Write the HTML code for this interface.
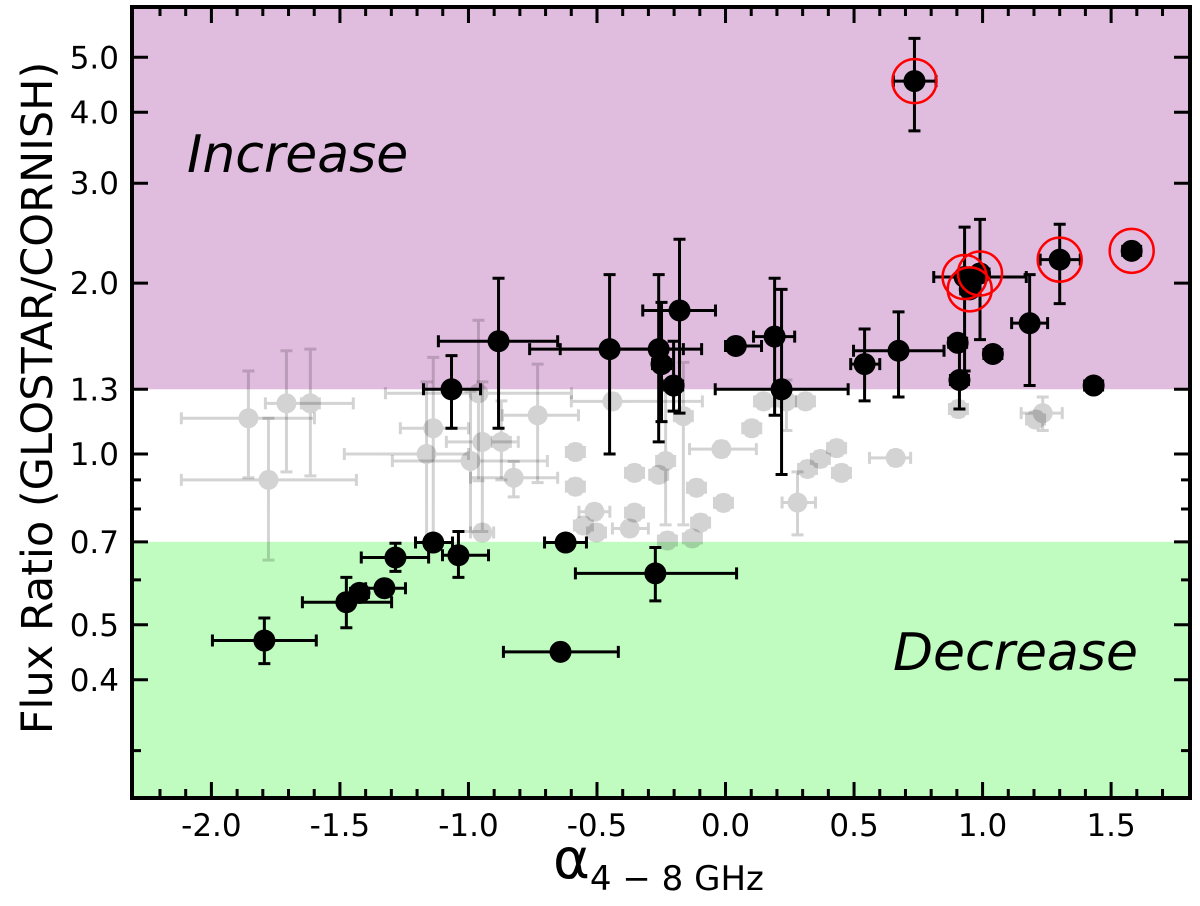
<!DOCTYPE html>
<html><head><meta charset="utf-8"><style>
html,body{margin:0;padding:0;background:#fff;}
svg{display:block;font-family:"DejaVu Sans","Liberation Sans",sans-serif;}
</style></head><body>
<svg id="chart" width="1200" height="906" viewBox="0 0 1200 906" xmlns="http://www.w3.org/2000/svg">
<g id="bg"></g><g id="grey"></g><g id="black"></g><g id="rings"></g><g id="axes"></g>
</svg>
<script>
// black (selected) sources
const bx  = [0.735,1.30,1.58,0.93,0.99,0.95,1.183,1.04,0.903,0.91,1.432,0.673,0.541,0.191,0.218,0.04,-0.179,-0.26,-0.249,-0.202,-0.451,-0.883,-1.066,-1.794,-1.475,-1.424,-1.327,-1.284,-1.137,-1.039,-0.622,-0.273,-0.642];
const by  = [4.54,2.20,2.28,2.05,2.08,1.95,1.70,1.50,1.57,1.35,1.32,1.52,1.44,1.61,1.30,1.55,1.79,1.53,1.44,1.32,1.53,1.58,1.30,0.469,0.548,0.569,0.58,0.657,0.698,0.663,0.698,0.616,0.448];
const bxlo= [0.653,1.224,null,0.81,null,null,1.113,null,null,null,null,0.498,0.487,0.109,-0.04,0.0,-0.322,-0.643,null,null,-0.762,-1.117,-1.175,-1.996,-1.646,null,-1.40,-1.417,-1.206,-1.101,-0.704,-0.584,-0.864];
const bxhi= [0.819,1.38,null,1.17,null,null,1.253,null,null,null,null,0.85,0.60,0.269,0.477,0.14,-0.039,-0.093,null,null,-0.164,-0.653,-0.953,-1.592,-1.299,null,-1.245,-1.155,-1.062,-0.922,-0.541,0.043,-0.417];
const bylo= [3.71,1.84,null,1.40,1.59,null,1.32,null,null,1.20,null,1.26,1.24,1.17,0.92,null,1.18,1.05,1.14,1.19,1.00,1.11,1.11,0.427,0.494,null,null,0.621,null,0.606,null,0.551,null];
const byhi= [5.40,2.54,null,2.51,2.59,null,2.07,null,null,1.58,null,1.78,1.66,2.04,1.95,null,2.39,2.07,1.85,1.58,2.07,2.04,1.49,0.514,0.606,null,null,0.696,null,0.730,null,0.684,null];
const circled = [0,1,2,3,4,5];
// grey (non-variable) sources
const gx  = [-1.856,-1.708,-1.615,-1.778,-0.961,-1.137,-1.163,-0.946,-0.872,-0.992,-0.824,-0.731,-0.946,-0.584,-0.584,-0.354,-0.51,-0.553,-0.502,-0.373,-0.354,-0.44,-0.26,-0.233,-0.164,-0.113,-0.016,0.102,0.148,0.237,0.311,0.28,0.319,0.369,0.432,0.451,0.662,0.906,1.234,1.206,-0.097,-0.129,-0.226,-0.008];
const gy  = [1.156,1.228,1.228,0.90,1.279,1.11,1.0,1.05,1.05,0.972,0.908,1.17,0.727,1.008,0.876,0.926,0.791,0.748,0.727,0.739,0.788,1.238,0.919,0.972,1.166,0.872,1.02,1.11,1.238,1.238,1.238,0.821,0.941,0.98,1.024,0.926,0.984,1.20,1.18,1.15,0.757,0.71,0.704,0.82];
const gxlo= [-2.117,-1.79,null,-2.117,-1.323,-1.265,-1.483,-1.086,null,-1.296,-0.992,-0.868,-0.992,null,null,null,-0.57,null,null,-0.44,null,-0.60,null,null,null,null,-0.14,null,null,null,null,0.22,null,null,null,null,0.56,null,1.15,null,null,null,null,null];
const gxhi= [-1.599,-1.448,null,-1.436,-0.599,-1.0,-1.0,-0.806,null,-0.693,-0.653,-0.572,-0.902,null,null,null,-0.45,null,null,-0.30,null,-0.09,null,null,null,null,0.12,null,null,null,null,0.35,null,null,null,null,0.72,null,1.31,null,null,null,null,null];
const gylo= [0.908,0.93,0.915,0.65,0.897,0.70,0.70,0.73,0.90,0.73,0.84,0.89,null,null,null,null,null,null,null,null,null,null,null,0.75,0.75,null,null,null,null,1.1,null,0.72,null,null,null,null,null,null,1.10,null,null,null,null,null];
const gyhi= [1.40,1.52,1.53,1.156,1.72,1.48,1.34,1.34,1.24,1.29,0.97,1.44,null,null,null,null,null,null,null,null,null,null,null,1.3,1.45,null,null,null,null,1.35,null,0.93,null,null,null,null,null,null,1.26,null,null,null,null,null];
// axis ticks
const xTicks = [-2.0,-1.5,-1.0,-0.5,0.0,0.5,1.0,1.5];
const yTicks = [0.4,0.5,0.7,1.0,1.3,2.0,3.0,4.0,5.0];
const yMinor = [0.3,0.6,0.8,0.9];
const bands = [1.3,0.7];

const L=133,R=1189,T=8,B=797;
const XMIN=-2.305,XMAX=1.803,YMIN=0.2486,YMAX=6.107;
const sx=v=>L+(v-XMIN)/(XMAX-XMIN)*(R-L);
const sy=v=>B-(Math.log10(v)-Math.log10(YMIN))/(Math.log10(YMAX)-Math.log10(YMIN))*(B-T);
const NS="http://www.w3.org/2000/svg";
function mk(parent,tag,attrs){const e=document.createElementNS(NS,tag);for(const k in attrs)e.setAttribute(k,attrs[k]);parent.appendChild(e);return e;}

const bg=document.getElementById('bg');
let r1=mk(bg,'rect',{x:L,y:T,width:R-L,height:sy(bands[0])-T,fill:'#e0bcdf'});


let r2=mk(bg,'rect',{x:L,y:sy(bands[1]),width:R-L,height:B-sy(bands[1]),fill:'#c0fcc0'});


let t1=mk(bg,'text',{x:187,y:172,'font-size':52,'font-style':'italic',fill:'#000'});t1.textContent='Increase';


let t2=mk(bg,'text',{x:893,y:670,'font-size':52,'font-style':'italic',fill:'#000'});t2.textContent='Decrease';



function drawPoint(g,x,y,xl,xh,yl,yh,r){
  const cx=sx(x),cy=sy(y);
  const x1=sx(xl==null?x-0.035:xl),x2=sx(xh==null?x+0.035:xh);
  const y1=sy(yh==null?y*1.03:yh),y2=sy(yl==null?y/1.03:yl);
  const p=`M${x1},${cy}H${x2}M${cx},${y1}V${y2}M${x1},${cy-6}V${cy+6}M${x2},${cy-6}V${cy+6}M${cx-6},${y1}H${cx+6}M${cx-6},${y2}H${cx+6}`;
  mk(g,'path',{d:p,stroke:'#000','stroke-width':3,fill:'none'});
  mk(g,'circle',{cx:cx,cy:cy,r:r,fill:'#000'});
}
const gg=document.getElementById('grey');
for(let i=0;i<gx.length;i++){
  const g=mk(gg,'g',{opacity:0.17});
  
  
  drawPoint(g,gx[i],gy[i],gxlo[i],gxhi[i],gylo[i],gyhi[i],10);
}
const bgp=document.getElementById('black');
for(let i=0;i<bx.length;i++){
  const g=mk(bgp,'g',{});
  
  
  drawPoint(g,bx[i],by[i],bxlo[i],bxhi[i],bylo[i],byhi[i],11);
}
const rg=document.getElementById('rings');
circled.forEach(i=>{
  const c=mk(rg,'circle',{cx:sx(bx[i]),cy:sy(by[i]),r:22,fill:'none',stroke:'#ff0000','stroke-width':2.5});
  
  
});

const ax=document.getElementById('axes');
let fr=mk(ax,'rect',{x:L-1,y:T-1,width:R-L+2,height:B-T+2,fill:'none',stroke:'#000','stroke-width':4});


let tp='';
for(let v=-2.3;v<=1.8;v+=0.1){const vv=Math.round(v*10)/10;const x=sx(vv);if(x<L+2||x>R-2)continue;
  const major=xTicks.some(t=>Math.abs(t-vv)<1e-6);const len=major?15:8;
  tp+=`M${x},${B}V${B-len}M${x},${T}V${T+len}`;}
yTicks.forEach(v=>{const y=sy(v);tp+=`M${L},${y}H${L+15}M${R},${y}H${R-15}`;});
yMinor.forEach(v=>{const y=sy(v);tp+=`M${L},${y}H${L+8}M${R},${y}H${R-8}`;});
mk(ax,'path',{d:tp,stroke:'#000','stroke-width':3,fill:'none'});
xTicks.forEach(v=>{const t=mk(ax,'text',{x:sx(v),y:836,'font-size':31,'text-anchor':'middle'});t.textContent=v.toFixed(1);
  
  });
yTicks.forEach(v=>{const t=mk(ax,'text',{x:119,y:sy(v)+11,'font-size':31,'text-anchor':'end'});t.textContent=v.toFixed(1);
  
  });
const yl=mk(ax,'text',{x:0,y:0,'font-size':43,'text-anchor':'middle',transform:'translate(52,398) rotate(-90)'});
yl.textContent='Flux Ratio (GLOSTAR/CORNISH)';


const xl=mk(ax,'text',{x:553,y:878,'font-size':56});
xl.innerHTML='α<tspan font-size="34" dy="12">4 − 8 GHz</tspan>';


</script>
</body></html>
